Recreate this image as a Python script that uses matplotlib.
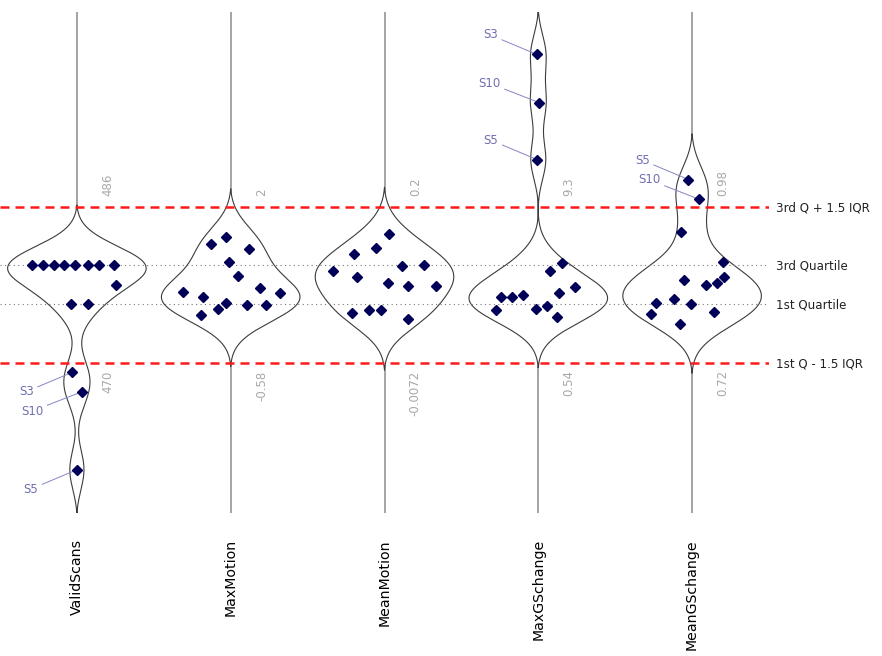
import numpy as np
import matplotlib
matplotlib.use('Agg')
import matplotlib.pyplot as plt
from matplotlib.transforms import blended_transform_factory

# ---------------- data ----------------
measures = ['ValidScans', 'MaxMotion', 'MeanMotion', 'MaxGSchange', 'MeanGSchange']
upper_fence = [486, 2, 0.2, 9.3, 0.98]        # 3rd Q + 1.5 IQR
lower_fence = [470, -0.58, -0.0072, 0.54, 0.72]  # 1st Q - 1.5 IQR

valid_scans = [480, 480, 480, 480, 480, 480, 480, 480, 478, 476, 476, 469, 467, 459]
valid_scans_jitter = [-0.293, -0.221, -0.152, -0.083, -0.013, 0.075, 0.143, 0.238,
                      0.256, -0.037, 0.075, -0.029, 0.033, 0.0]
valid_scans_labels = [''] * 11 + ['S3', 'S10', 'S5']

max_motion = [1.38, 1.50, 1.30, 1.08, 0.85, 0.59, 0.51, 0.66, 0.57, 0.41, 0.30, 0.20, 0.37, 0.37]
max_motion_jitter = [-0.130, -0.028, 0.117, -0.008, 0.047, -0.308, -0.180, 0.191,
                     0.319, -0.031, -0.080, -0.193, 0.104, 0.232]
max_motion_labels = [''] * 14

mean_motion = [0.1635, 0.1453, 0.1373, 0.1147, 0.1060, 0.1210, 0.1219, 0.0980,
               0.0944, 0.0944, 0.0585, 0.0621, 0.0621, 0.0506]
mean_motion_jitter = [0.031, -0.054, -0.197, -0.332, -0.180, 0.111, 0.254, 0.024,
                      0.156, 0.334, -0.212, -0.098, -0.023, 0.156]
mean_motion_labels = [''] * 14

max_gs = [17.84, 15.13, 11.93, 6.11, 5.68, 4.80, 4.46, 4.23, 4.22, 4.35, 3.47, 3.53, 3.70, 3.11]
max_gs_jitter = [-0.010, 0.007, -0.007, 0.154, 0.074, 0.237, 0.137, -0.241,
                 -0.169, -0.101, -0.273, -0.017, 0.055, 0.122]
max_gs_labels = ['S3', 'S10', 'S5'] + [''] * 11

mean_gs = [1.025, 0.992, 0.938, 0.887, 0.862, 0.8525, 0.849, 0.858,
           0.8254, 0.8187, 0.817, 0.8009, 0.8037, 0.7847]
mean_gs_jitter = [-0.024, 0.047, -0.074, 0.202, 0.210, 0.160, 0.091, -0.050,
                  -0.115, -0.232, -0.009, -0.265, 0.140, -0.076]
mean_gs_labels = ['S5', 'S10'] + [''] * 12

values = [valid_scans, max_motion, mean_motion, max_gs, mean_gs]
jitters = [valid_scans_jitter, max_motion_jitter, mean_motion_jitter, max_gs_jitter, mean_gs_jitter]
labels = [valid_scans_labels, max_motion_labels, mean_motion_labels, max_gs_labels, mean_gs_labels]

# ---------------- normalisation (1st Q -> 0, 3rd Q -> 1) ----------------
norm = []
for v, lo, hi in zip(values, lower_fence, upper_fence):
    v = np.asarray(v, float)
    norm.append(-1.5 + 4.0 * (v - lo) / (hi - lo))

pad = 1.1
ylo = min(n.min() for n in norm) - pad
yhi = max(n.max() for n in norm) + pad

W, H = 882, 656
px_per_unit = 39.0
q1_pix = 304.0
top_pix = q1_pix - px_per_unit * yhi
bot_pix = q1_pix - px_per_unit * ylo

fig = plt.figure(figsize=(W / 100, H / 100), dpi=100)
ax = fig.add_axes([0.0, 1 - bot_pix / H, 769 / W, (bot_pix - top_pix) / H])
ax.set_xlim(0.5, 5.5)
ax.set_ylim(ylo, yhi)
for s in ax.spines.values():
    s.set_visible(False)
ax.set_yticks([])

sigma = 0.513
max_half = 0.455
min_half = 0.0045
outline = '#3c3c3c'

for i, yn in enumerate(norm):
    c = i + 1
    ax.vlines(c, ylo, yhi, color='#8a8a8a', lw=1.1, zorder=1)
    g = np.linspace(ylo, yhi, 2000)
    d = np.exp(-0.5 * ((g[:, None] - yn[None, :]) / sigma) ** 2).sum(axis=1)
    w = d / d.max() * max_half
    keep = w >= min_half
    idx = np.where(keep)[0]
    g = g[idx[0]:idx[-1] + 1]
    w = w[idx[0]:idx[-1] + 1] - min_half
    ax.fill_betweenx(g, c - w, c + w, facecolor='white', edgecolor='none', zorder=2)
    xs = np.concatenate([c - w, (c + w)[::-1]])
    ys = np.concatenate([g, g[::-1]])
    ax.plot(xs, ys, color=outline, lw=0.8, zorder=2.5)

# reference lines
for yv in (2.5, -1.5):
    ax.axhline(yv, color='#ff1a1a', lw=1.8, ls=(0, (3.6, 2.4)), zorder=3)
for yv in (0.0, 1.0):
    ax.axhline(yv, color='#777777', lw=0.8, ls=(0, (1, 3)), zorder=3)

# points and subject labels
for i, (yn, jit, lab) in enumerate(zip(norm, jitters, labels)):
    c = i + 1
    xs = c + np.asarray(jit)
    ax.plot(xs, yn, ls='none', marker='D', ms=5.6, color='#000058',
            mec='#000058', zorder=5)
    for x, y, l in zip(xs, yn, lab):
        if l:
            dy = 14 if y > 1 else -14
            ax.annotate(l, xy=(x, y), xytext=(-28, dy), textcoords='offset points',
                        ha='right', va='center', fontsize=8.5, color='#6f6fb3',
                        arrowprops=dict(arrowstyle='-', color='#8585c5', lw=0.7,
                                        shrinkA=1, shrinkB=0),
                        zorder=4)

# fence values
for i, (lo, hi) in enumerate(zip(lower_fence, upper_fence)):
    c = i + 1
    ax.text(c + 0.2, 2.5 + 0.26, '{:g}'.format(hi), rotation=90, ha='center',
            va='bottom', fontsize=8.5, color='#a8a8a8')
    ax.text(c + 0.2, -1.5 - 0.2, '{:g}'.format(lo), rotation=90, ha='center',
            va='top', fontsize=8.5, color='#a8a8a8')

# right-hand labels
tr = blended_transform_factory(ax.transAxes, ax.transData)
for yv, txt in [(2.5, '3rd Q + 1.5 IQR'), (1.0, '3rd Quartile'),
                (0.0, '1st Quartile'), (-1.5, '1st Q - 1.5 IQR')]:
    ax.text(1.009, yv - 0.03, txt, transform=tr, ha='left', va='center',
            fontsize=8.6, color='#222222')

ax.set_xticks(range(1, 6))
ax.set_xticklabels(measures, rotation=90, fontsize=10.2, color='black')
ax.tick_params(axis='x', length=0, pad=19)

fig.savefig('out.png', dpi=100)
